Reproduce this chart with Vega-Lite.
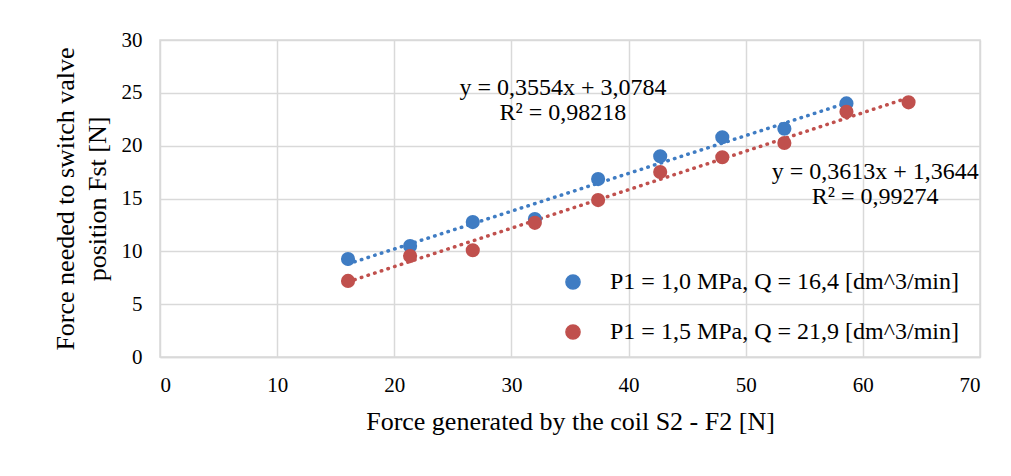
{
  "$schema": "https://vega.github.io/schema/vega-lite/v6.json",
  "autosize": "none",
  "width": 820,
  "height": 317,
  "padding": {"left": 160, "top": 40, "right": 31, "bottom": 119},
  "background": "white",
  "config": {
    "font": "Liberation Serif",
    "view": {"stroke": "#d9d9d9", "strokeWidth": 1.5},
    "axis": {
      "labelFont": "Liberation Serif",
      "titleFont": "Liberation Serif",
      "labelFontSize": 21,
      "titleFontSize": 26,
      "titleFontWeight": "normal",
      "labelColor": "#000000",
      "titleColor": "#000000",
      "gridColor": "#d9d9d9",
      "gridWidth": 1.5,
      "ticks": false,
      "domainColor": "#d9d9d9",
      "domainWidth": 1.5
    },
    "legend": {
      "title": null, "orient": "none", "legendX": 401, "legendY": 230,
      "labelFont": "Liberation Serif", "labelFontSize": 24, "labelColor": "#000000",
      "symbolSize": 200, "symbolType": "circle", "rowPadding": 26, "labelOffset": 25,
      "labelLimit": 600
    }
  },
  "datasets": {
    "points": [
      {"x": 16.05, "y": 9.27, "series": "P1 = 1,0 MPa, Q = 16,4 [dm^3/min]"},
      {"x": 21.35, "y": 10.5, "series": "P1 = 1,0 MPa, Q = 16,4 [dm^3/min]"},
      {"x": 26.7, "y": 12.77, "series": "P1 = 1,0 MPa, Q = 16,4 [dm^3/min]"},
      {"x": 32.0, "y": 13.06, "series": "P1 = 1,0 MPa, Q = 16,4 [dm^3/min]"},
      {"x": 37.4, "y": 16.84, "series": "P1 = 1,0 MPa, Q = 16,4 [dm^3/min]"},
      {"x": 42.7, "y": 19.0, "series": "P1 = 1,0 MPa, Q = 16,4 [dm^3/min]"},
      {"x": 48.0, "y": 20.8, "series": "P1 = 1,0 MPa, Q = 16,4 [dm^3/min]"},
      {"x": 53.3, "y": 21.6, "series": "P1 = 1,0 MPa, Q = 16,4 [dm^3/min]"},
      {"x": 58.6, "y": 24.0, "series": "P1 = 1,0 MPa, Q = 16,4 [dm^3/min]"},
      {"x": 16.05, "y": 7.2, "series": "P1 = 1,5 MPa, Q = 21,9 [dm^3/min]"},
      {"x": 21.35, "y": 9.55, "series": "P1 = 1,5 MPa, Q = 21,9 [dm^3/min]"},
      {"x": 26.7, "y": 10.1, "series": "P1 = 1,5 MPa, Q = 21,9 [dm^3/min]"},
      {"x": 32.0, "y": 12.7, "series": "P1 = 1,5 MPa, Q = 21,9 [dm^3/min]"},
      {"x": 37.4, "y": 14.85, "series": "P1 = 1,5 MPa, Q = 21,9 [dm^3/min]"},
      {"x": 42.7, "y": 17.5, "series": "P1 = 1,5 MPa, Q = 21,9 [dm^3/min]"},
      {"x": 48.0, "y": 18.9, "series": "P1 = 1,5 MPa, Q = 21,9 [dm^3/min]"},
      {"x": 53.3, "y": 20.25, "series": "P1 = 1,5 MPa, Q = 21,9 [dm^3/min]"},
      {"x": 58.6, "y": 23.2, "series": "P1 = 1,5 MPa, Q = 21,9 [dm^3/min]"},
      {"x": 63.9, "y": 24.1, "series": "P1 = 1,5 MPa, Q = 21,9 [dm^3/min]"}
    ],
    "labels": [
      {"x": 34.4, "y": 25.45, "text": "y = 0,3554x + 3,0784"},
      {"x": 34.4, "y": 23.1, "text": "R² = 0,98218"},
      {"x": 61.05, "y": 17.5, "text": "y = 0,3613x + 1,3644"},
      {"x": 61.05, "y": 15.1, "text": "R² = 0,99274"}
    ]
  },
  "encoding": {
    "x": {
      "field": "x", "type": "quantitative",
      "scale": {"domain": [0, 70], "nice": false},
      "axis": {"values": [0, 10, 20, 30, 40, 50, 60, 70], "labelPadding": 17, "titlePadding": 13, "title": "Force generated by the coil S2 - F2 [N]"}
    },
    "y": {
      "field": "y", "type": "quantitative",
      "scale": {"domain": [0, 30], "nice": false},
      "axis": {"values": [0, 5, 10, 15, 20, 25, 30], "labelPadding": 18, "titlePadding": 11, "titleLineHeight": 32, "domain": false, "title": ["Force needed to switch valve", "position Fst [N]"]}
    }
  },
  "layer": [
    {
      "data": {"name": "points"},
      "transform": [{"regression": "y", "on": "x", "groupby": ["series"]}],
      "mark": {"type": "line", "strokeDash": [0.5, 6.5], "strokeWidth": 3.5, "strokeCap": "round"},
      "encoding": {
        "color": {"field": "series", "type": "nominal",
          "scale": {"domain": ["P1 = 1,0 MPa, Q = 16,4 [dm^3/min]", "P1 = 1,5 MPa, Q = 21,9 [dm^3/min]"], "range": ["#3f7cc3", "#c0504d"]}}
      }
    },
    {
      "data": {"name": "points"},
      "mark": {"type": "point", "filled": true, "opacity": 1, "size": 200, "shape": "circle"},
      "encoding": {
        "color": {"field": "series", "type": "nominal",
          "scale": {"domain": ["P1 = 1,0 MPa, Q = 16,4 [dm^3/min]", "P1 = 1,5 MPa, Q = 21,9 [dm^3/min]"], "range": ["#3f7cc3", "#c0504d"]}}
      }
    },
    {
      "data": {"name": "labels"},
      "mark": {"type": "text", "fontSize": 24, "font": "Liberation Serif", "color": "#000000", "align": "center", "baseline": "middle"},
      "encoding": {"text": {"field": "text"}}
    }
  ]
}
